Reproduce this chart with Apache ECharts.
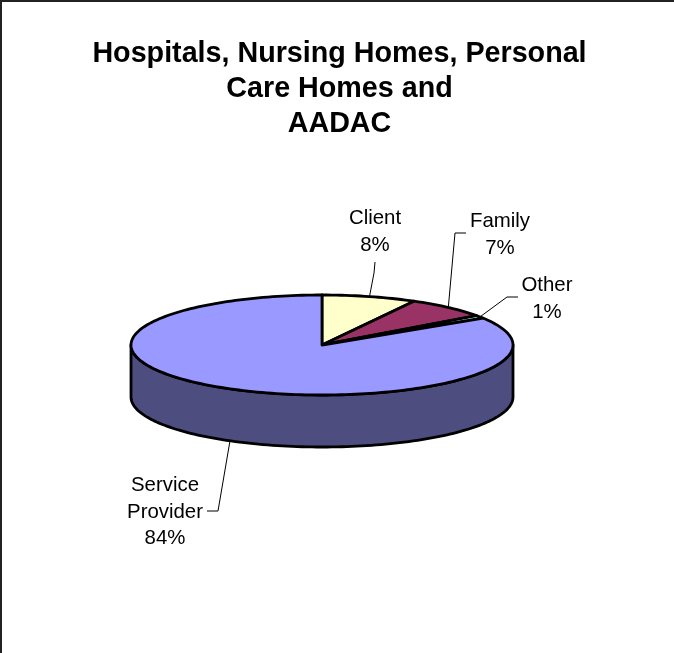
<!DOCTYPE html>
<html>
<head>
<meta charset="utf-8">
<style>html,body{margin:0;padding:0;background:#fff}#chart{width:674px;height:653px}</style>
<script src="https://cdn.jsdelivr.net/npm/echarts@6/dist/echarts.min.js"></script>
</head>
<body>
<div id="chart"></div>
<script>
// Who reported: share of responses per group, clockwise from twelve o'clock.
const categories = ['Client', 'Family', 'Other', 'Service\nProvider'];
const shares = [8, 7, 1, 84];
const topColors = ['#FFFFCC', '#993366', '#CCFFFF', '#9999FF'];
const wallColors = ['#80806A', '#4D1A33', '#668080', '#4D4D80'];
const chartTitle = 'Hospitals, Nursing Homes, Personal\nCare Homes and\nAADAC';

// Tilted disc geometry and label placement, in pixels.
const disc = { cx: 322, cy: 345, rx: 191, ry: 50, depth: 52 };
const labelAnchors = [
  { x: 375, y: 205, elbow: [[374, 273], [375, 262]] },
  { x: 500, y: 208, elbow: [[455, 233], [466, 233]] },
  { x: 547, y: 272, elbow: [[507, 297], [518, 297]] },
  { x: 165, y: 472, elbow: [[218, 511], [207, 511]] }
];

const total = shares.reduce((a, b) => a + b, 0);
const rim = (deg, drop) => {
  const t = deg * Math.PI / 180;
  return [disc.cx + disc.rx * Math.sin(t), disc.cy - disc.ry * Math.cos(t) + (drop || 0)];
};
const arc = (from, to, drop) => {
  const pts = [];
  const steps = Math.max(2, Math.ceil((to - from) / 1.5));
  for (let i = 0; i <= steps; i++) pts.push(rim(from + (to - from) * i / steps, drop));
  return pts;
};

function renderSlice(params, api) {
  const i = params.dataIndex;
  const before = shares.slice(0, i).reduce((a, b) => a + b, 0);
  const from = before / total * 360;
  const to = from + api.value(1) / total * 360;
  const mid = (from + to) / 2;
  const edge = { stroke: '#000', lineWidth: 2.8, lineJoin: 'round' };
  const children = [];

  // Front wall: only the part of the slice facing the viewer.
  const wallFrom = Math.max(from, 90), wallTo = Math.min(to, 270);
  if (wallTo > wallFrom) {
    children.push({
      type: 'polygon',
      shape: { points: arc(wallFrom, wallTo, 0).concat(arc(wallFrom, wallTo, disc.depth).reverse()) },
      style: Object.assign({ fill: wallColors[i] }, edge)
    });
  }
  // Top face.
  children.push({
    type: 'polygon',
    shape: { points: [[disc.cx, disc.cy]].concat(arc(from, to, 0)) },
    style: Object.assign({ fill: topColors[i] }, edge)
  });
  // Leader from the rim to the label.
  const a = labelAnchors[i];
  const facing = mid > 90 && mid < 270;
  const start = rim(mid, facing ? disc.depth : 0);
  children.push({
    type: 'polyline',
    shape: { points: [start].concat(a.elbow) },
    style: { stroke: '#000', lineWidth: 1, fill: null },
    z2: 5
  });
  // Category and percentage text.
  children.push({
    type: 'text',
    x: a.x, y: a.y,
    style: {
      text: api.value(0) + '\n' + Math.round(api.value(1) / total * 100) + '%',
      font: '20.4px "Liberation Sans", Arial, sans-serif',
      fill: '#000', align: 'center', verticalAlign: 'top', lineHeight: 26.7
    },
    z2: 6
  });
  return { type: 'group', children };
}

const chart = echarts.init(document.getElementById('chart'), null, { renderer: 'canvas' });
chart.setOption({
  animation: false,
  backgroundColor: '#fff',
  title: {
    text: chartTitle,
    left: 334.5, top: 32, textAlign: 'center',
    textStyle: {
      fontFamily: '"Liberation Sans", Arial, sans-serif',
      fontWeight: 'bold', fontSize: 28.7, lineHeight: 35, color: '#000'
    }
  },
  graphic: [{
    type: 'rect',
    shape: { x: 1, y: 1, width: 800, height: 800 },
    style: { fill: null, stroke: '#222', lineWidth: 2 },
    silent: true
  }],
  series: [{
    type: 'custom',
    coordinateSystem: 'none',
    renderItem: renderSlice,
    data: categories.map((c, i) => [c, shares[i]]),
    encode: { itemName: 0, value: 1 },
    silent: true
  }]
});
</script>
</body>
</html>
